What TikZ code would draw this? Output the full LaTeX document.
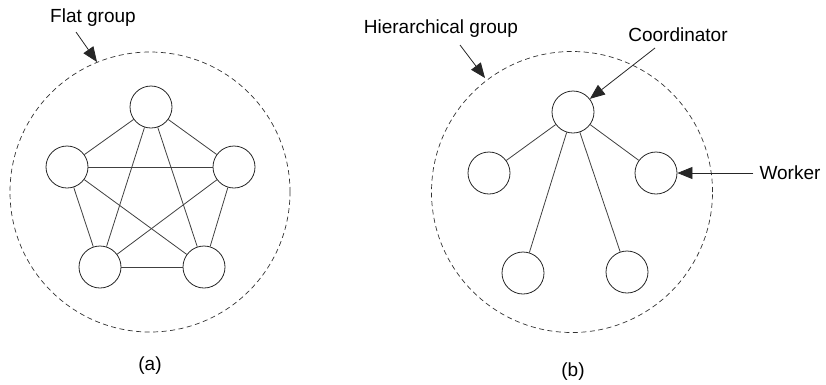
\documentclass[tikz,border=0pt]{standalone}
\usepackage{fontspec}
\setmainfont{Liberation Sans}
\usetikzlibrary{arrows.meta}
\begin{document}
\begin{tikzpicture}[x=1pt,y=-1pt,
  proc/.style={circle,draw=black!85,line width=0.8pt,minimum size=42pt,inner sep=0pt},
  link/.style={draw=black!75,line width=0.8pt},
  grp/.style={draw=black!80,line width=0.7pt,dash pattern=on 5pt off 3.5pt},
  lbl/.style={font=\fontsize{19}{22}\selectfont,inner sep=0pt},
  ptr/.style={draw=black!85,line width=0.8pt,-{Triangle[length=15pt,width=12pt]}}]
\useasboundingbox (0,0) rectangle (826,384);
% (a) flat group
\node[grp,circle,minimum size=280pt,inner sep=0pt] (ga) at (150,192) {};
\node[proc] (a1) at (151,107) {};
\node[proc] (a2) at (67,167) {};
\node[proc] (a3) at (234,167) {};
\node[proc] (a4) at (100,267) {};
\node[proc] (a5) at (204,267) {};
\foreach \u/\v in {a1/a2,a1/a3,a1/a4,a1/a5,a2/a3,a2/a4,a2/a5,a3/a4,a3/a5,a4/a5}
  \draw[link] (\u) -- (\v);
\node[lbl] (la) at (93,18) {Flat group};
\coordinate (pa) at (76,32);
\coordinate (ta) at (97,62);
\draw[ptr] (pa) -- (ta);
\node[lbl] (capa) at (150,366) {(a)};
% (b) hierarchical group
\node[grp,circle,minimum size=281pt,inner sep=0pt] (gb) at (572,192) {};
\node[proc] (c) at (573,112) {};
\node[proc] (w1) at (489,173) {};
\node[proc] (w2) at (656,173) {};
\node[proc] (w3) at (523,273) {};
\node[proc] (w4) at (627,272) {};
\foreach \v in {w1,w2,w3,w4}
  \draw[link] (c) -- (\v);
\node[lbl] (lb) at (441,29) {Hierarchical group};
\coordinate (pb) at (460,45);
\coordinate (tb) at (485,78);
\draw[ptr] (pb) -- (tb);
\node[lbl] (lc) at (678,35) {Coordinator};
\coordinate (pc) at (655,48);
\draw[ptr] (pc) -- (c);
\node[lbl] (lw) at (790,173) {Worker};
\draw[ptr] (lw.west) ++(-6,0) coordinate (pw) -- (w2);
\node[lbl] (capb) at (573,372) {(b)};
\end{tikzpicture}
\end{document}
